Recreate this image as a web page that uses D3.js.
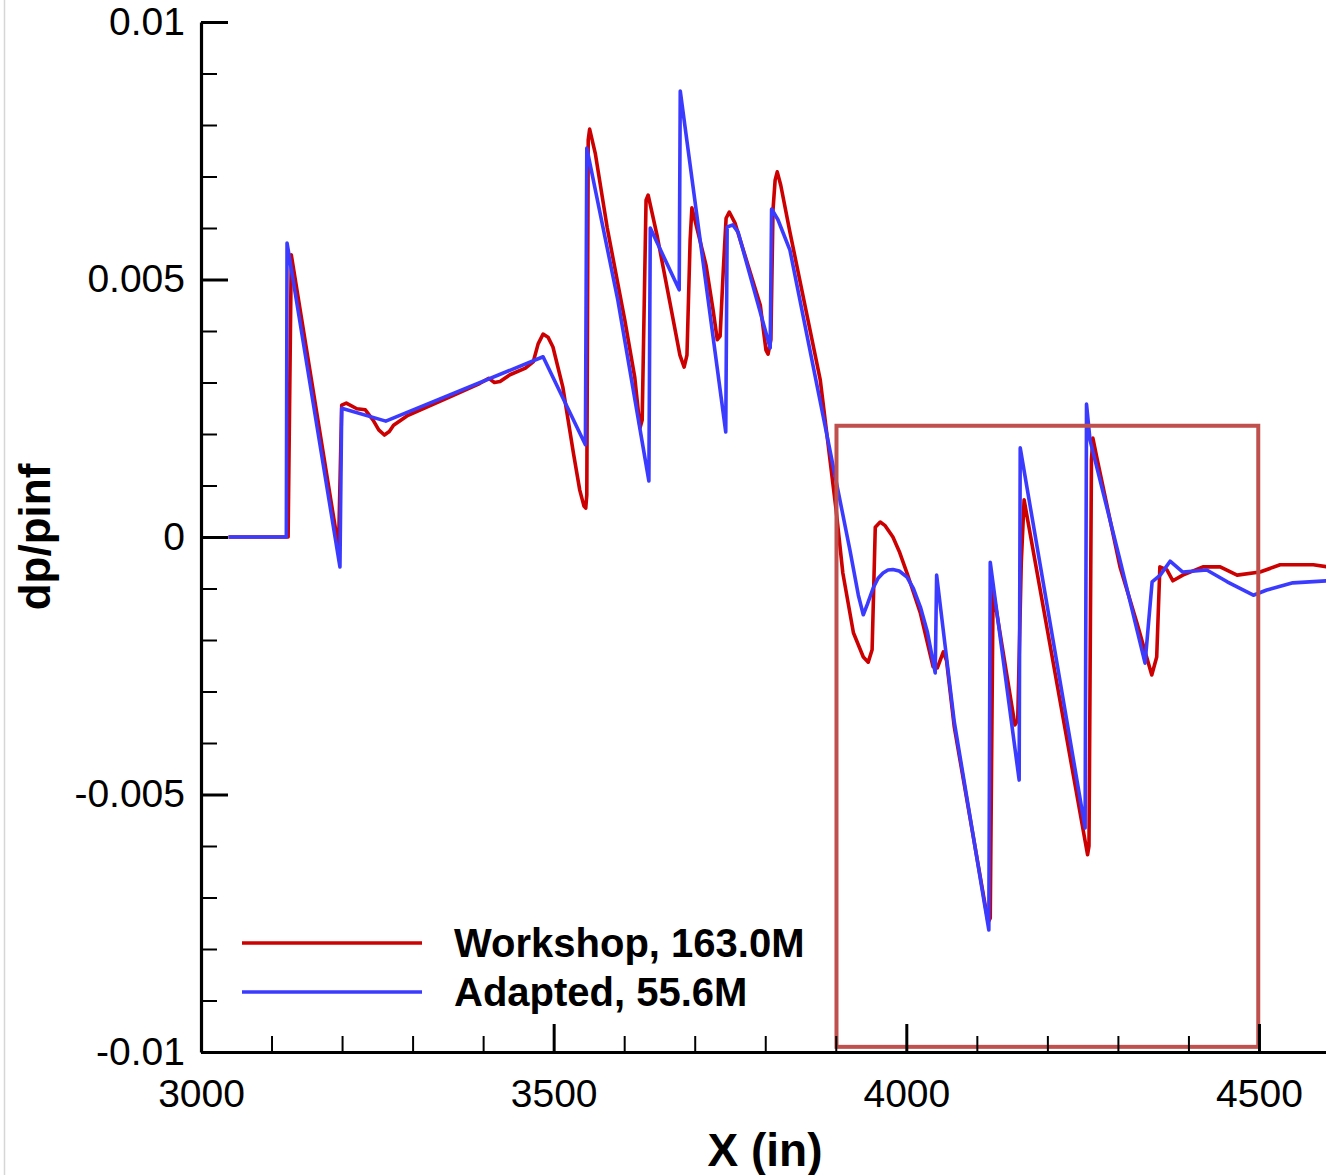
<!DOCTYPE html>
<html>
<head>
<meta charset="utf-8">
<script src="https://cdn.jsdelivr.net/npm/d3@7"></script>
<style>
  html, body { margin: 0; padding: 0; background: #fff; }
  svg { display: block; }
  text { font-family: "Liberation Sans", Arial, Helvetica, sans-serif; fill: #000; }
</style>
</head>
<body>
<svg id="chart" width="1326" height="1175"></svg>
<script>
// ---------------- data ----------------
const seriesNames = ["Workshop, 163.0M", "Adapted, 55.6M"];
const seriesColors = ["#cc0000", "#3b3bff"];

const workshopX = [3039, 3123.5, 3128, 3195, 3199.5, 3206, 3221, 3233, 3244, 3252, 3260, 3267, 3273, 3292, 3353, 3395, 3408, 3416, 3424, 3438, 3460, 3471, 3478, 3485, 3492, 3499, 3513, 3528, 3537, 3543, 3545.5, 3547, 3549, 3551, 3559, 3576, 3601, 3615, 3622.5, 3625.5, 3631, 3634, 3647, 3665, 3679, 3685, 3689, 3693.5, 3696, 3716, 3726, 3732, 3736, 3740.5, 3744.5, 3749, 3757, 3771, 3793, 3801, 3804, 3808, 3811, 3814, 3817, 3822, 3835, 3878, 3900.5, 3910, 3925, 3939, 3946, 3951.5, 3956, 3963, 3970, 3981, 3990, 4001, 4020, 4038, 4044, 4052.5, 4057, 4068, 4116, 4119, 4123, 4154, 4158, 4163, 4167, 4257, 4259, 4262.5, 4264.5, 4270, 4303, 4327, 4348, 4355, 4359.5, 4369.5, 4378, 4392, 4420.5, 4445, 4469, 4501.5, 4530, 4577, 4597];
const workshopY = [0, 0, 0.00548, -0.00021, 0.00256, 0.00260, 0.00249, 0.00247, 0.00227, 0.00208, 0.00198, 0.00205, 0.00217, 0.00235, 0.00272, 0.00298, 0.00308, 0.00300, 0.00302, 0.00315, 0.00328, 0.00340, 0.00375, 0.00394, 0.00388, 0.00369, 0.00291, 0.00163, 0.00091, 0.00060, 0.00056, 0.00082, 0.00771, 0.00792, 0.00745, 0.00600, 0.00420, 0.00310, 0.00212, 0.00227, 0.00654, 0.00664, 0.00583, 0.00454, 0.00353, 0.00330, 0.00353, 0.00577, 0.00639, 0.00528, 0.00441, 0.00383, 0.00390, 0.00518, 0.00619, 0.00631, 0.00610, 0.00548, 0.00450, 0.00363, 0.00355, 0.00383, 0.00635, 0.00693, 0.00709, 0.00683, 0.00592, 0.00305, 0.00052, -0.00070, -0.00186, -0.00233, -0.00243, -0.00219, 0.00019, 0.00029, 0.00022, 0.00000, -0.00028, -0.00070, -0.00148, -0.00252, -0.00254, -0.00223, -0.00240, -0.00369, -0.00748, -0.00740, -0.00103, -0.00365, -0.00355, -0.00050, 0.00072, -0.00617, -0.00600, 0.00150, 0.00192, 0.00155, -0.00058, -0.00167, -0.00268, -0.00233, -0.00058, -0.00064, -0.00085, -0.00074, -0.00058, -0.00058, -0.00074, -0.00068, -0.00054, -0.00054, -0.00058];

const adaptedX = [3039, 3121, 3122, 3197, 3199.5, 3262, 3485, 3545, 3547, 3591, 3635, 3637, 3678, 3679.5, 3744, 3746, 3754, 3761.5, 3807, 3809, 3818, 3835, 3920, 3932, 3939, 3945, 3953, 3960, 3967, 3974, 3981, 3990, 4001, 4010, 4020, 4030, 4041, 4043, 4068, 4117, 4119, 4160, 4161.5, 4253.5, 4255.5, 4260.5, 4303, 4338.5, 4348.5, 4360, 4374, 4392, 4426, 4455, 4492, 4511, 4548, 4597];
const adaptedY = [0, 0, 0.00571, -0.00058, 0.00250, 0.00225, 0.00350, 0.00179, 0.00755, 0.00460, 0.00109, 0.00600, 0.00480, 0.00866, 0.00204, 0.00602, 0.00606, 0.00592, 0.00367, 0.00637, 0.00616, 0.00557, -0.00025, -0.00113, -0.00151, -0.00130, -0.00099, -0.00080, -0.00070, -0.00064, -0.00063, -0.00066, -0.00078, -0.00100, -0.00136, -0.00185, -0.00264, -0.00074, -0.00359, -0.00763, -0.00049, -0.00472, 0.00173, -0.00565, 0.00258, 0.00188, -0.00045, -0.00245, -0.00087, -0.00074, -0.00047, -0.00068, -0.00064, -0.00087, -0.00113, -0.00103, -0.00089, -0.00085];

const xMajorTicks = [3000, 3500, 4000, 4500];
const xTickLabels = ["3000", "3500", "4000", "4500"];
const yMajorTicks = [0.01, 0.005, 0, -0.005, -0.01];
const yTickLabels = ["0.01", "0.005", "0", "-0.005", "-0.01"];
const xMinorTicks = d3.range(31, 46).map(d => d * 100).filter(d => d % 500 !== 0);
const yMinorTicks = d3.range(-9, 10).filter(d => d % 5 !== 0).map(d => d / 1000);

// highlighted region (data coords)
const boxX = [3901, 4499];
const boxY = [-0.0099, 0.00216];

// ---------------- chart ----------------
const svg = d3.select("#chart");
const x = d3.scaleLinear().domain([3000, 4600]).range([201, 1329.5]);
const y = d3.scaleLinear().domain([-0.01, 0.01]).range([1052, 22]);

// left image border
svg.append("line").attr("x1", 4.5).attr("x2", 4.5).attr("y1", 0).attr("y2", 1175)
  .attr("stroke", "#d6d6d6").attr("stroke-width", 1.5);

const workshop = workshopX.map((v, i) => [v, workshopY[i]]);
const adapted = adaptedX.map((v, i) => [v, adaptedY[i]]);
const line = d3.line().x(d => x(d[0])).y(d => y(d[1])).curve(d3.curveLinear);

svg.append("path").datum(workshop).attr("d", line)
  .attr("fill", "none").attr("stroke", seriesColors[0]).attr("stroke-width", 3.6)
  .attr("stroke-linejoin", "round");
svg.append("path").datum(adapted).attr("d", line)
  .attr("fill", "none").attr("stroke", seriesColors[1]).attr("stroke-width", 3.6)
  .attr("stroke-linejoin", "round");

// highlight box
svg.append("rect")
  .attr("x", x(boxX[0])).attr("y", y(boxY[1]))
  .attr("width", x(boxX[1]) - x(boxX[0])).attr("height", y(boxY[0]) - y(boxY[1]))
  .attr("fill", "none").attr("stroke", "#c0504d").attr("stroke-width", 4);

// axes: minor ticks
const yMinor = svg.append("g").attr("transform", "translate(201,0)")
  .call(d3.axisLeft(y).tickValues(yMinorTicks).tickSize(-16).tickFormat(""));
yMinor.select(".domain").remove();
yMinor.selectAll(".tick line").attr("stroke", "#000").attr("stroke-width", 2);

const xMinor = svg.append("g").attr("transform", "translate(0,1052)")
  .call(d3.axisBottom(x).tickValues(xMinorTicks).tickSize(-16).tickFormat(""));
xMinor.select(".domain").remove();
xMinor.selectAll(".tick line").attr("stroke", "#000").attr("stroke-width", 2);

// major axes
const yAxis = svg.append("g").attr("transform", "translate(201,0)")
  .call(d3.axisLeft(y).tickValues(yMajorTicks).tickSize(-27).tickSizeOuter(0)
    .tickPadding(16).tickFormat((d, i) => yTickLabels[i]));
yAxis.select(".domain").attr("stroke", "#000").attr("stroke-width", 3.2);
yAxis.selectAll(".tick line").attr("stroke", "#000").attr("stroke-width", 3);
yAxis.selectAll(".tick text").attr("font-size", 39).attr("font-family", "Liberation Sans, Arial, sans-serif").attr("fill", "#000");

const xAxis = svg.append("g").attr("transform", "translate(0,1052)")
  .call(d3.axisBottom(x).tickValues(xMajorTicks).tickSize(-28).tickSizeOuter(0)
    .tickPadding(27).tickFormat((d, i) => xTickLabels[i]));
xAxis.select(".domain").attr("stroke", "#000").attr("stroke-width", 3.2);
xAxis.selectAll(".tick line").attr("stroke", "#000").attr("stroke-width", 3);
xAxis.selectAll(".tick text").attr("font-size", 39).attr("font-family", "Liberation Sans, Arial, sans-serif").attr("fill", "#000");

// axis titles
svg.append("text").attr("x", 765).attr("y", 1166).attr("text-anchor", "middle")
  .attr("font-size", 46).attr("font-weight", "bold").text("X (in)");
svg.append("text").attr("transform", "translate(50,537) rotate(-90)").attr("text-anchor", "middle")
  .attr("font-size", 44).attr("font-weight", "bold").text("dp/pinf");

// legend
const legendY = [943, 992];
seriesNames.forEach((name, i) => {
  svg.append("line").attr("x1", 242).attr("x2", 422).attr("y1", legendY[i]).attr("y2", legendY[i])
    .attr("stroke", seriesColors[i]).attr("stroke-width", 3.4);
  svg.append("text").attr("x", 454).attr("y", legendY[i] + 14)
    .attr("font-size", 40).attr("font-weight", "bold").text(name);
});
</script>
</body>
</html>
